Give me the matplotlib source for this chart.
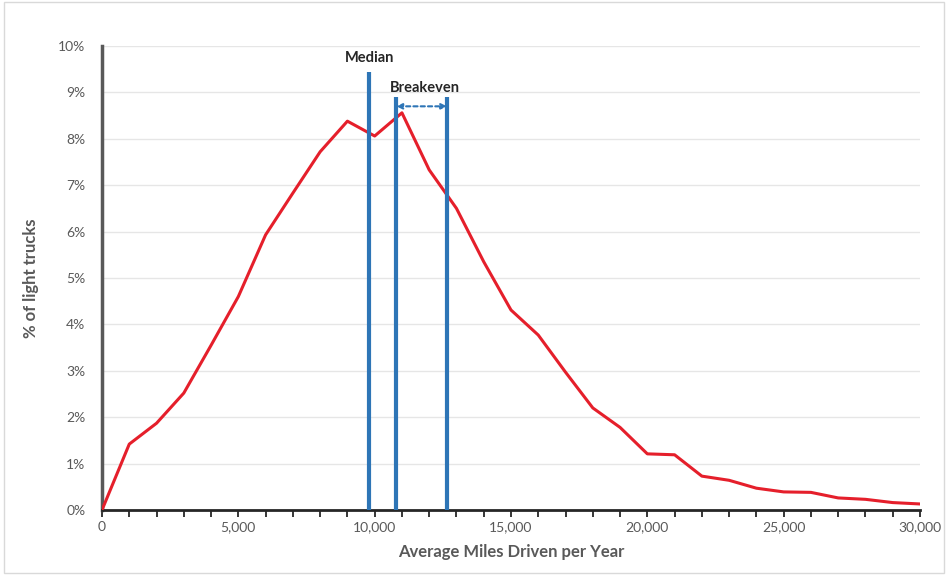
import numpy as np
import matplotlib.pyplot as plt
from matplotlib.ticker import FuncFormatter, MultipleLocator

plt.rcParams['font.family'] = ['Lato', 'DejaVu Sans']

miles = list(range(0, 31000, 1000))
pct = [0.0, 1.42, 1.87, 2.52, 3.55, 4.6, 5.93, 6.83, 7.72, 8.38, 8.06, 8.56,
       7.33, 6.5, 5.35, 4.31, 3.77, 2.97, 2.2, 1.78, 1.21, 1.19, 0.73, 0.64,
       0.47, 0.39, 0.38, 0.26, 0.23, 0.16, 0.13]

median_miles = 9800
median_top = 9.45
breakeven_lo = 10800
breakeven_hi = 12650
breakeven_top = 8.9
arrow_y = 8.7

text_c = '#595959'
red = '#E51F2B'
blue = '#2E75B6'

fig = plt.figure(figsize=(9.48, 5.75), dpi=100)
ax = fig.add_axes([102 / 948, 1 - 510 / 575, 818 / 948, 464 / 575])

ax.plot(miles, pct, color=red, linewidth=2.2, zorder=3, solid_joinstyle='round')

ax.vlines(median_miles, 0, median_top, color=blue, linewidth=3, zorder=4)
ax.vlines([breakeven_lo, breakeven_hi], 0, breakeven_top, color=blue, linewidth=3, zorder=4)
ax.annotate('', xy=(breakeven_hi, arrow_y), xytext=(breakeven_lo, arrow_y),
            arrowprops=dict(arrowstyle='<|-|>', color=blue, linestyle=(0, (2, 1.5)),
                            linewidth=1.5, shrinkA=0, shrinkB=0, mutation_scale=8),
            zorder=5)
ax.text(median_miles, 9.58, 'Median', ha='center', va='bottom',
        fontsize=10.5, fontweight='bold', color='#262626')
ax.text((breakeven_lo + breakeven_hi) / 2 + 100, 8.95, 'Breakeven', ha='center', va='bottom',
        fontsize=10.5, fontweight='bold', color='#262626')

ax.set_xlim(0, 30000)
ax.set_ylim(0, 10)
ax.xaxis.set_major_locator(MultipleLocator(5000))
ax.xaxis.set_minor_locator(MultipleLocator(1000))
ax.yaxis.set_major_locator(MultipleLocator(1))
ax.xaxis.set_major_formatter(FuncFormatter(lambda v, p: f'{int(v):,}'))
ax.yaxis.set_major_formatter(FuncFormatter(lambda v, p: f'{int(v)}%'))

ax.grid(axis='y', color='#E6E6E6', linewidth=1)
ax.set_axisbelow(True)
for s in ['top', 'right']:
    ax.spines[s].set_visible(False)
ax.spines['left'].set_color('#595959')
ax.spines['left'].set_linewidth(2.5)
ax.spines['bottom'].set_color('#262626')
ax.spines['bottom'].set_linewidth(2)

ax.tick_params(axis='y', length=0, labelsize=10, labelcolor=text_c, pad=12)
ax.tick_params(axis='x', which='both', direction='out', length=5, width=1.3,
               color='#262626', labelsize=10, labelcolor=text_c, pad=3)

ax.set_xlabel('Average Miles Driven per Year', fontsize=12, fontweight='bold',
              color=text_c, labelpad=8)
ax.set_ylabel('% of light trucks', fontsize=12, fontweight='bold', color=text_c,
              labelpad=14)

fig.patches.append(plt.Rectangle((0.004, 0.004), 0.992, 0.992, transform=fig.transFigure,
                                 fill=False, edgecolor='#D9D9D9', linewidth=1))

fig.savefig('out.png', dpi=100)
